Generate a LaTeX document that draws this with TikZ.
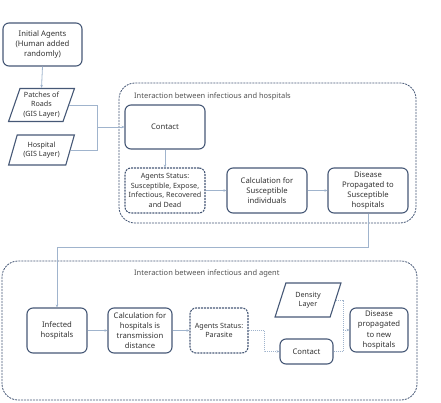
\documentclass[tikz,border=0pt]{standalone}
\usepackage{fontspec}
\setmainfont{Noto Sans}
\usetikzlibrary{shapes.geometric,arrows.meta}
\definecolor{bord}{RGB}{70,88,118}
\definecolor{conn}{RGB}{160,180,205}
\definecolor{txt}{RGB}{50,50,50}
\tikzset{
  every node/.style={text=txt,font=\fontsize{7.2}{9.4}\selectfont,align=center,inner sep=1pt},
  bigt/.style={font=\fontsize{7.7}{10.2}\selectfont},
  rbox/.style={draw=bord,line width=1.1pt,rounded corners=6pt},
  dbox/.style={rbox,dashed,dash pattern=on 2pt off 1pt},
  para/.style={draw=bord,line width=1.1pt,trapezium,trapezium left angle=70,trapezium right angle=110,trapezium stretches=true},
  region/.style={draw=bord,line width=0.8pt,dash pattern=on 2pt off 1pt,rounded corners=16pt},
  cline/.style={draw=conn,line width=0.8pt},
  carr/.style={cline,-{Stealth[length=3pt,width=2.5pt]}},
  dline/.style={cline,dash pattern=on 1pt off 1pt},
  darr/.style={dline,-{Stealth[length=3pt,width=2.5pt]}},
  ttl/.style={text=txt!85,font=\fontsize{7.5}{9}\selectfont,anchor=west}
}
\begin{document}
\begin{tikzpicture}[x=1pt,y=-1pt]
\useasboundingbox (0,0) rectangle (441,403);
% regions
\draw[region] (119,83) rectangle (416,223);
\node[ttl] (t1) at (133,97) {Interaction between infectious and hospitals};
\draw[region] (2,261) rectangle (417,400);
\node[ttl] (t2) at (133,274) {Interaction between infectious and agent};
% top nodes
\node[rbox,bigt,minimum width=79pt,minimum height=43pt] (ia) at (42.5,44.5) {Initial Agents\\(Human added\\randomly)};
\node[para,minimum width=66pt,minimum height=33pt] (pr) at (41.5,105) {Patches of\\Roads\\(GIS Layer)};
\node[para,minimum width=66pt,minimum height=30pt] (hp) at (41.5,150) {Hospital\\(GIS Layer)};
\node[rbox,bigt,minimum width=80pt,minimum height=44pt] (ct1) at (165,127) {Contact};
\node[dbox,minimum width=80pt,minimum height=45pt] (as1) at (165,190.5) {Agents Status:\\Susceptible, Expose,\\Infectious, Recovered\\and Dead};
\node[rbox,bigt,minimum width=80pt,minimum height=45pt] (cs) at (267,190.5) {Calculation for\\Susceptible\\individuals};
\node[rbox,bigt,minimum width=80pt,minimum height=45pt] (dp) at (368,190.5) {Disease\\Propagated to\\Susceptible\\hospitals};
% bottom nodes
\node[rbox,bigt,minimum width=60pt,minimum height=45pt] (ih) at (57,330.5) {Infected\\hospitals};
\node[rbox,bigt,minimum width=64pt,minimum height=45pt] (ch) at (140,330.5) {Calculation for\\hospitals is\\transmission\\distance};
\node[dbox,minimum width=58pt,minimum height=45pt] (ap) at (219,330.5) {Agents Status:\\Parasite};
\node[para,minimum width=66pt,minimum height=34pt] (dl) at (308,300) {Density\\Layer};
\node[rbox,bigt,minimum width=53pt,minimum height=25pt] (ct2) at (306.5,351.5) {Contact};
\node[rbox,bigt,minimum width=58pt,minimum height=44pt] (dn) at (379,330) {Disease\\propagated\\to new\\hospitals};
% connectors
\coordinate (j) at (97,127);
\coordinate (b1) at (368,247);
\coordinate (k1) at (264,330.5);
\coordinate (k2) at (343,330);
\draw[carr] (ia.south) -- (pr.north);
\draw[cline] (pr.east) -| (j);
\draw[cline] (hp.east) -| (j);
\draw[carr] (j) -- (ct1.west);
\draw[carr] (ct1.south) -- (as1.north);
\draw[carr] (as1.east) -- (cs.west);
\draw[carr] (cs.east) -- (dp.west);
\draw[carr] (dp.south) -- (b1) -| (ih.north);
\draw[carr] (ih.east) -- (ch.west);
\draw[carr] (ch.east) -- (ap.west);
\draw[dline] (ap.east) -- (k1);
\draw[darr] (k1) |- (ct2.west);
\draw[dline] (dl.east) -| (k2);
\draw[dline] (ct2.east) -| (k2);
\draw[darr] (k2) -- (dn.west);
\end{tikzpicture}
\end{document}
